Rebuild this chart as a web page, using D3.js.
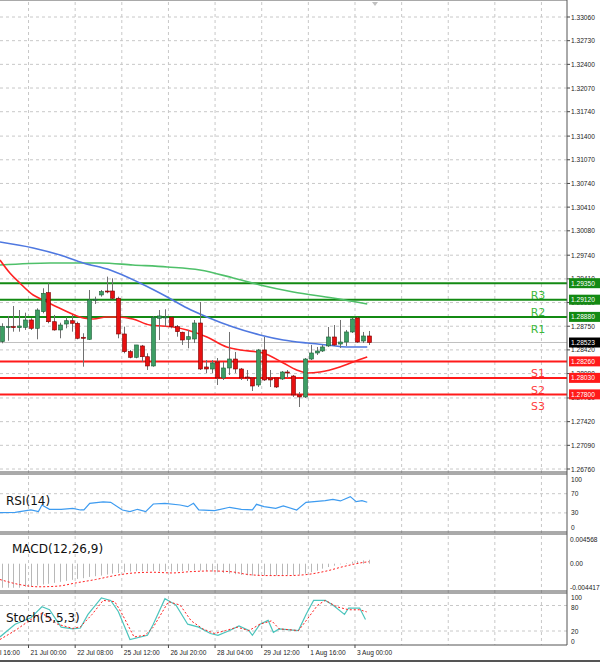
<!DOCTYPE html>
<html><head><meta charset="utf-8">
<script src="https://cdn.jsdelivr.net/npm/d3@7"></script>
<style>
body{margin:0;background:#fff;}
text{font-family:"DejaVu Sans",sans-serif;}
.ax text{font-family:"Liberation Sans",Arial,sans-serif;}
</style></head>
<body><svg id="chart" width="600" height="662"></svg>
<script>
// candles: open, high, low, close (4H)
var opens  = [1.28535,1.28735,1.28744,1.28730,1.28735,1.28837,1.28721,1.28953,1.29218,1.28813,1.28698,1.28781,1.28827,1.28791,1.28596,1.28568,1.29116,1.29186,1.29241,1.29241,1.29140,1.28642,1.28395,1.28317,1.28475,1.28325,1.28196,1.28861,1.28875,1.28875,1.28744,1.28666,1.28568,1.28572,1.28795,1.28182,1.28154,1.28252,1.28029,1.28168,1.28293,1.28154,1.28042,1.28029,1.27931,1.28419,1.28029,1.28029,1.28015,1.28112,1.28056,1.27792,1.27764,1.28293,1.28377,1.28405,1.28475,1.28600,1.28502,1.28530,1.28670,1.28865,1.28544,1.28614];
var closes = [1.28744,1.28744,1.28730,1.28753,1.28837,1.28721,1.28976,1.29209,1.28813,1.28698,1.28767,1.28827,1.28791,1.28582,1.28582,1.29116,1.29126,1.29232,1.29232,1.29140,1.28642,1.28395,1.28317,1.28489,1.28325,1.28196,1.28875,1.28893,1.28880,1.28744,1.28674,1.28558,1.28604,1.28795,1.28154,1.28154,1.28238,1.28029,1.28168,1.28293,1.28154,1.28029,1.28029,1.27917,1.28419,1.28001,1.28001,1.27903,1.28112,1.28098,1.27792,1.27764,1.28293,1.28377,1.28405,1.28461,1.28600,1.28489,1.28530,1.28670,1.28851,1.28530,1.28614,1.28523];
var highs  = [1.28791,1.28893,1.29032,1.28976,1.28939,1.28861,1.29000,1.29279,1.29349,1.28907,1.28799,1.28875,1.28907,1.28813,1.28652,1.29255,1.29162,1.29255,1.29441,1.29418,1.29162,1.28744,1.28419,1.28489,1.28489,1.28373,1.28893,1.28976,1.28986,1.28880,1.28767,1.28674,1.28698,1.28837,1.29088,1.28279,1.28279,1.28307,1.28252,1.28670,1.28391,1.28168,1.28140,1.28042,1.28433,1.28600,1.28140,1.28029,1.28126,1.28140,1.28070,1.27833,1.28307,1.28489,1.28461,1.28489,1.28739,1.28767,1.28837,1.28698,1.28865,1.28879,1.28670,1.28684];
var lows   = [1.28512,1.28548,1.28674,1.28674,1.28698,1.28698,1.28568,1.28930,1.28791,1.28688,1.28582,1.28721,1.28674,1.28568,1.28186,1.28558,1.29060,1.29162,1.29209,1.29126,1.28582,1.28373,1.28303,1.28303,1.28256,1.28140,1.28186,1.28558,1.28744,1.28721,1.28604,1.28489,1.28443,1.28516,1.28140,1.28098,1.28098,1.27931,1.28001,1.28070,1.28098,1.28001,1.27987,1.27847,1.27903,1.27987,1.27903,1.27889,1.28001,1.28029,1.27764,1.27624,1.27750,1.28279,1.28349,1.28391,1.28461,1.28475,1.28447,1.28475,1.28656,1.28516,1.28516,1.28489];

// moving averages (bar index, price)
var maRedIdx = [-0.3,1.4,3.1,5.4,7.1,9.5,11.7,14,15.7,18,19.8,22.5,25.4,29.4,31.8,35.2,38.6,40.9,44.8,48.3,50.6,52.4,54.6,58,60.3,62.7];
var maRedVal = [1.29673,1.29492,1.29353,1.29185,1.29116,1.29018,1.28935,1.28865,1.28851,1.28879,1.28879,1.28851,1.28767,1.28739,1.28698,1.28600,1.28461,1.28419,1.28377,1.28238,1.28140,1.28098,1.28112,1.28182,1.28252,1.28321];
var maBlueIdx = [-0.3,5.4,10,14,18.6,23.7,28.4,31.8,35.2,39.7,44.3,48.3,52.4,55.8,59.2,62.7];
var maBlueVal = [1.29924,1.29841,1.29743,1.29632,1.29534,1.29353,1.29158,1.29004,1.28879,1.28739,1.28628,1.28558,1.28516,1.28489,1.28461,1.28461];
var maGreenIdx = [-0.3,8.3,16.9,22.5,28.4,34,39.7,44.3,50,56.8,62.7];
var maGreenVal = [1.29604,1.29632,1.29632,1.29604,1.29576,1.29534,1.29423,1.29325,1.29228,1.29144,1.29060];

var pivotNames = ['R3','R2','R1','S1','S2','S3'];
var pivotVals = [1.29350,1.29120,1.28880,1.28260,1.28030,1.27800];
var lastPrice = 1.28523;

var priceTicks = [1.33060,1.32730,1.32400,1.32070,1.31740,1.31400,1.31070,1.30740,1.30410,1.30080,1.29740,1.29410,1.29080,1.28750,1.28420,1.28090,1.27750,1.27420,1.27090,1.26760];

var rsiIdx = [-0.3,2.3,5,6.3,6.9,8.2,10.2,12.2,13.5,14.1,15.1,17.4,18.7,20.7,22,23.3,24.7,26,28,30.6,31.9,32.9,33.8,36.5,39.1,41.1,43,43.7,45,47,48.3,50.6,52.2,55.5,56.8,58.1,59.8,60.8,61.8,62.7];
var rsiVal = [30.6,31.3,36.1,32.6,46.5,37.5,37.5,39.6,36.1,36.1,50,52.8,52.1,36.1,32.6,37.5,32.6,48.6,50,46.5,43,50,36.1,34.7,41.7,37.5,36.1,47.9,43,39.6,44.4,36.1,52.1,55.6,58.3,54.9,63.9,53.5,55.6,52.1];

var macdHist = [-0.00450,-0.00450,-0.00450,-0.00450,-0.00432,-0.00420,-0.00407,-0.00389,-0.00376,-0.00358,-0.00339,-0.00321,-0.00302,-0.00284,-0.00271,-0.00247,-0.00234,-0.00222,-0.00204,-0.00185,-0.00173,-0.00160,-0.00148,-0.00142,-0.00142,-0.00142,-0.00136,-0.00142,-0.00142,-0.00148,-0.00142,-0.00136,-0.00130,-0.00123,-0.00130,-0.00136,-0.00148,-0.00160,-0.00173,-0.00185,-0.00197,-0.00210,-0.00216,-0.00222,-0.00222,-0.00222,-0.00222,-0.00222,-0.00216,-0.00210,-0.00210,-0.00204,-0.00185,-0.00160,-0.00130,-0.00093,-0.00062,-0.00037,-0.00012,0.00012,0.00037,0.00049,0.00062,0.00074];
var macdSigIdx = [-0.3,3,6.3,9.6,12.8,16.1,19.4,22.7,26,29.2,32.5,35.8,39.1,42.4,45.7,49,52.2,55.5,58.8,62.1,63];
var macdSigVal = [-0.00296,-0.00389,-0.00432,-0.00420,-0.00358,-0.00296,-0.00222,-0.00173,-0.00160,-0.00173,-0.00148,-0.00136,-0.00148,-0.00204,-0.00222,-0.00222,-0.00204,-0.00142,-0.00049,0.00025,0.00037];

var stochIdx = [-0.3,2.3,5,6.9,8.2,10.2,12.2,13.5,14.8,17.1,18.7,20,22,25,26,28,29.9,31.9,33.8,35.8,37.1,39.1,40.7,42.4,43,44.3,45.7,46.6,47.6,50.9,52.2,53.5,55.5,56.8,58.8,59.5,61.4,62.4];
var stochVal = [6,36,51,77,70,29,25,27,59,98,92,66,0,10,36,96,81,36,29,14,10,21,32,21,10,36,45,17,25,21,59,92,92,81,59,74,74,47];
var stochSigIdx = [-0.3,2.3,5,6.9,9.6,12.2,13.5,15.5,17.4,19.4,20.7,22.7,24.6,26,28.6,30.6,32.5,34.5,36.5,38.4,40.4,42.4,44.3,46.3,47.6,50.9,52.2,54.2,55.5,57.5,59.5,61.4,62.6];
var stochSigVal = [0,21,47,62,36,26,30,59,92,89,59,6,10,29,89,81,44,25,14,21,29,21,36,44,25,21,44,81,92,77,70,70,65];

var dateIdx = [-3.4,4.6,12.6,20.6,28.6,36.6,44.6,52.6,60.6];
var dateLabels = ['20 Jul 16:00','21 Jul 00:00','22 Jul 08:00','25 Jul 12:00','26 Jul 20:00','28 Jul 04:00','29 Jul 12:00','1 Aug 16:00','3 Aug 00:00'];

var svg = d3.select('#chart');
var axisX = 567;
var x = d3.scaleLinear().domain([0, 1]).range([1.7, 7.53]); // one bar = 5.83px
var y = d3.scaleLinear().domain([1.2676, 1.3306]).range([469, 17]);
var yRsi = d3.scaleLinear().domain([0, 100]).range([527.3, 479.3]);
var yMacd = d3.scaleLinear().domain([-0.004417, 0.004568]).range([587.3, 539.3]);
var ySt = d3.scaleLinear().domain([0, 100]).range([639.5, 597]);

svg.append('clipPath').attr('id', 'clip').append('rect').attr('x', 0).attr('y', 0).attr('width', axisX).attr('height', 662);
var grid = '#c8c8c8';

// grid
var vg = svg.append('g').attr('stroke', grid).attr('stroke-dasharray', '3,3');
dateIdx.forEach(function(d) {
  if (x(d) > 0) vg.append('line').attr('x1', x(d)).attr('x2', x(d)).attr('y1', 2).attr('y2', 645);
});
for (var gx = x(68.6); gx < axisX; gx += 46.6) {
  vg.append('line').attr('x1', gx).attr('x2', gx).attr('y1', 2).attr('y2', 645);
}
priceTicks.forEach(function(p) {
  vg.append('line').attr('x1', 0).attr('x2', axisX).attr('y1', y(p)).attr('y2', y(p));
});
[70, 30].forEach(function(v) {
  vg.append('line').attr('x1', 0).attr('x2', axisX).attr('y1', yRsi(v)).attr('y2', yRsi(v));
});
[80, 20].forEach(function(v) {
  vg.append('line').attr('x1', 0).attr('x2', axisX).attr('y1', ySt(v)).attr('y2', ySt(v));
});

// current price line
svg.append('line').attr('x1', 0).attr('x2', axisX).attr('y1', y(lastPrice)).attr('y2', y(lastPrice)).attr('stroke', '#c0c0c0');

// pivot lines
pivotVals.forEach(function(p, i) {
  var c = i < 3 ? '#138a13' : '#ff1a1a';
  svg.append('line').attr('x1', 0).attr('x2', axisX).attr('y1', y(p)).attr('y2', y(p)).attr('stroke', c).attr('stroke-width', 2);
  svg.append('text').attr('x', 538).attr('y', y(p) + 16).attr('text-anchor', 'middle')
    .attr('font-size', 11).attr('fill', i < 3 ? '#3cb83c' : '#ff4040').text(pivotNames[i]);
});

// moving averages
function maLine(idx, vals, col) {
  svg.append('path').datum(d3.range(idx.length))
    .attr('d', d3.line().curve(d3.curveMonotoneX).x(function(i) { return x(idx[i]); }).y(function(i) { return y(vals[i]); }))
    .attr('fill', 'none').attr('stroke', col).attr('stroke-width', 1.6).attr('clip-path', 'url(#clip)');
}
maLine(maGreenIdx, maGreenVal, '#4fc06a');
maLine(maBlueIdx, maBlueVal, '#4f78e0');
maLine(maRedIdx, maRedVal, '#ff2222');

// candles
var cg = svg.append('g');
opens.forEach(function(o, i) {
  var c = closes[i], up = c >= o, cx = Math.round(x(i)) + 0.5;
  cg.append('line').attr('x1', cx).attr('x2', cx).attr('y1', y(highs[i])).attr('y2', y(lows[i])).attr('stroke', '#707070');
  var top = y(Math.max(o, c)), h = Math.max(1, y(Math.min(o, c)) - top);
  cg.append('rect').attr('x', cx - 2).attr('y', top).attr('width', 4).attr('height', h)
    .attr('fill', up ? '#3d9e64' : '#e81010').attr('stroke', up ? '#1d5e38' : '#7a0000').attr('stroke-width', 0.6);
});

// shift marker
svg.append('path').attr('d', 'M372,2 L378,2 L375,6 Z').attr('fill', '#c0c0c0');

// price axis labels
var ax = svg.append('g').attr('class', 'ax').attr('font-size', 6.6).attr('fill', '#222');
priceTicks.forEach(function(p) {
  ax.append('line').attr('x1', axisX).attr('x2', axisX + 3).attr('y1', y(p)).attr('y2', y(p)).attr('stroke', '#444');
  ax.append('text').attr('x', axisX + 4).attr('y', y(p) + 2.5).text(p.toFixed(5));
});
function tag(p, bg) {
  ax.append('rect').attr('x', axisX + 2).attr('y', y(p) - 5).attr('width', 31).attr('height', 10).attr('fill', bg);
  ax.append('text').attr('x', axisX + 4).attr('y', y(p) + 2.5).attr('fill', '#fff').text(p.toFixed(5));
}
pivotVals.forEach(function(p, i) { tag(p, i < 3 ? '#138a13' : '#ff1a1a'); });
tag(lastPrice, '#000');

// RSI
svg.append('path').datum(d3.range(rsiIdx.length))
  .attr('d', d3.line().x(function(i) { return x(rsiIdx[i]); }).y(function(i) { return yRsi(rsiVal[i]); }))
  .attr('fill', 'none').attr('stroke', '#3d9bf0').attr('stroke-width', 1.2);
[[100, '100'], [70, '70'], [30, '30'], [0, '0']].forEach(function(t) {
  ax.append('text').attr('x', axisX + 4).attr('y', yRsi(t[0]) + 2.5).text(t[1]);
});
svg.append('text').attr('x', 6).attr('y', 505).attr('font-size', 12).attr('fill', '#111').text('RSI(14)');

// MACD
macdHist.forEach(function(v, i) {
  svg.append('line').attr('x1', Math.round(x(i)) + 0.5).attr('x2', Math.round(x(i)) + 0.5)
    .attr('y1', yMacd(0)).attr('y2', yMacd(v)).attr('stroke', '#b8b8b8');
});
svg.append('path').datum(d3.range(macdSigIdx.length))
  .attr('d', d3.line().curve(d3.curveMonotoneX).x(function(i) { return x(macdSigIdx[i]); }).y(function(i) { return yMacd(macdSigVal[i]); }))
  .attr('fill', 'none').attr('stroke', '#ff2020').attr('stroke-width', 1).attr('stroke-dasharray', '2,2');
[[0.004568, '0.004568'], [0, '0.00'], [-0.004417, '-0.004417']].forEach(function(t) {
  ax.append('text').attr('x', axisX + 3).attr('y', yMacd(t[0]) + 2.5).text(t[1]);
});
svg.append('text').attr('x', 12).attr('y', 553).attr('font-size', 12).attr('fill', '#111').text('MACD(12,26,9)');

// Stochastic
svg.append('path').datum(d3.range(stochIdx.length))
  .attr('d', d3.line().x(function(i) { return x(stochIdx[i]); }).y(function(i) { return ySt(stochVal[i]); }))
  .attr('fill', 'none').attr('stroke', '#4cc4bc').attr('stroke-width', 1.2);
svg.append('path').datum(d3.range(stochSigIdx.length))
  .attr('d', d3.line().x(function(i) { return x(stochSigIdx[i]); }).y(function(i) { return ySt(stochSigVal[i]); }))
  .attr('fill', 'none').attr('stroke', '#ff2020').attr('stroke-width', 1).attr('stroke-dasharray', '2,2');
[[100, '100', 0], [80, '80', 1.5], [20, '20', 0], [0, '0', 1.5]].forEach(function(t) {
  ax.append('text').attr('x', axisX + 4).attr('y', ySt(t[0]) + 2.5 + t[2]).text(t[1]);
});
svg.append('text').attr('x', 6).attr('y', 622).attr('font-size', 12).attr('fill', '#111').text('Stoch(5,5,3)');

// panel borders
var bd = svg.append('g').attr('stroke', '#555').attr('fill', 'none');
bd.append('line').attr('x1', axisX).attr('x2', axisX).attr('y1', 0).attr('y2', 645);
[[0, 472], [474, 532], [534, 591], [593, 645]].forEach(function(r) {
  bd.append('line').attr('x1', 0).attr('x2', axisX).attr('y1', r[0]).attr('y2', r[0]);
  bd.append('line').attr('x1', 0).attr('x2', axisX).attr('y1', r[1]).attr('y2', r[1]);
});
bd.append('line').attr('x1', 0).attr('x2', 600).attr('y1', 661).attr('y2', 661).attr('stroke-width', 2);

// date labels
dateIdx.forEach(function(d, i) {
  ax.append('line').attr('x1', x(d)).attr('x2', x(d)).attr('y1', 645).attr('y2', 648).attr('stroke', '#444');
  ax.append('text').attr('x', x(d) + 2).attr('y', 655).text(dateLabels[i]);
});
</script></body></html>
